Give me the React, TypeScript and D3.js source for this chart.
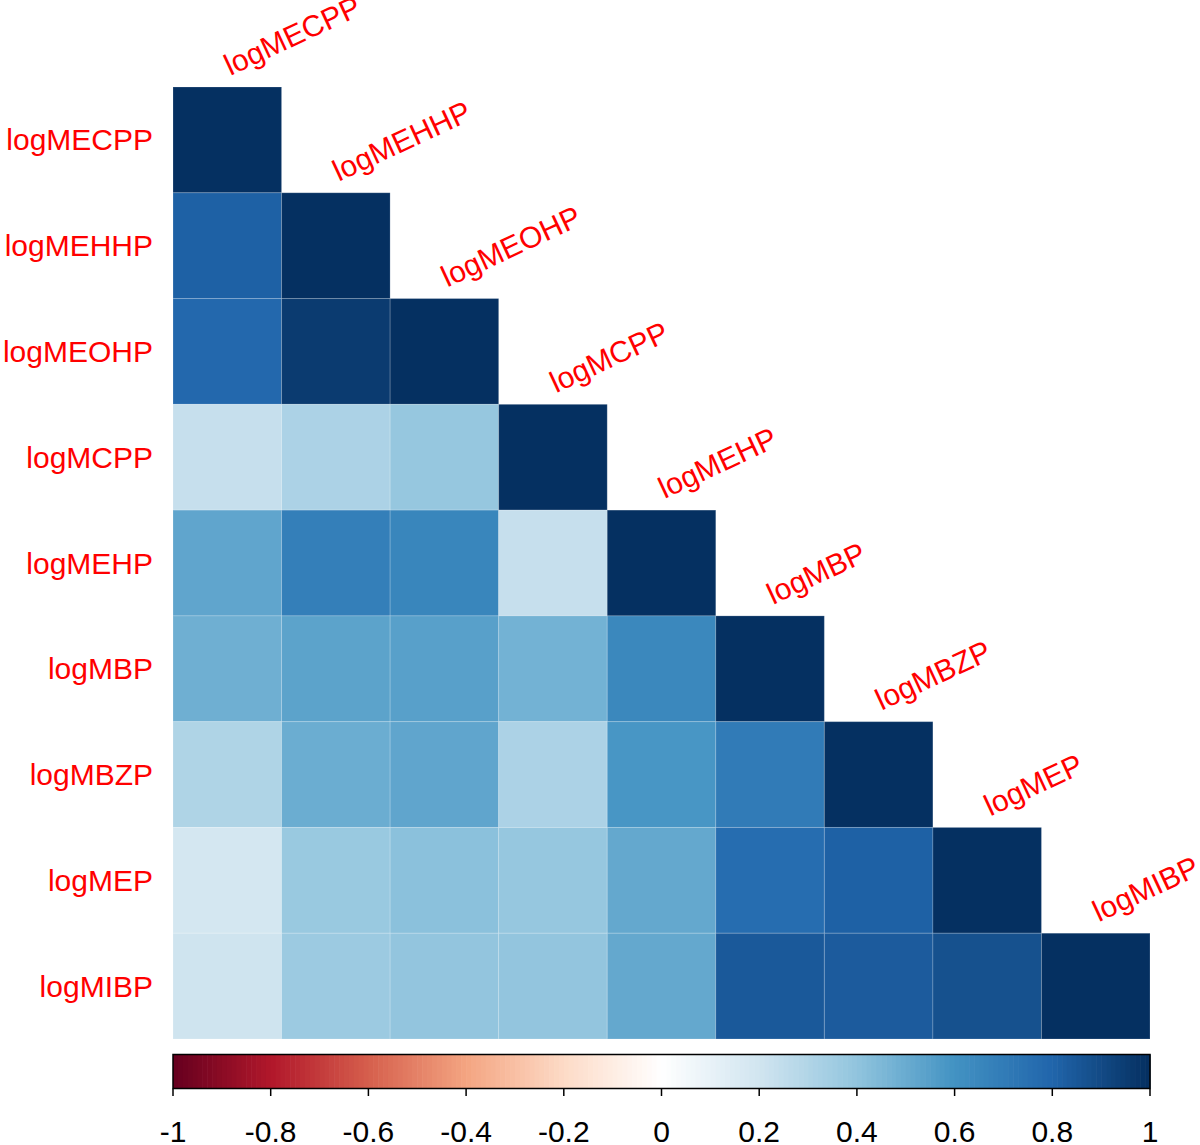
import * as d3 from 'd3';

const width = 1200;
const height = 1145;

// variable names (row order = column order)
const vars = ['logMECPP', 'logMEHHP', 'logMEOHP', 'logMCPP', 'logMEHP', 'logMBP', 'logMBZP', 'logMEP', 'logMIBP'];

// lower triangle of the correlation matrix
const rMECPP = [1];
const rMEHHP = [0.82, 1];
const rMEOHP = [0.78, 0.95, 1];
const rMCPP = [0.23, 0.31, 0.38, 1];
const rMEHP = [0.52, 0.68, 0.65, 0.23, 1];
const rMBP = [0.48, 0.53, 0.54, 0.47, 0.64, 1];
const rMBZP = [0.3, 0.49, 0.52, 0.31, 0.58, 0.7, 1];
const rMEP = [0.18, 0.37, 0.41, 0.38, 0.51, 0.76, 0.82, 1];
const rMIBP = [0.2, 0.36, 0.39, 0.39, 0.51, 0.84, 0.83, 0.87, 1];
const lowerTri = [rMECPP, rMEHHP, rMEOHP, rMCPP, rMEHP, rMBP, rMBZP, rMEP, rMIBP];

// colorbar ticks
const barTicks = [-1, -0.8, -0.6, -0.4, -0.2, 0, 0.2, 0.4, 0.6, 0.8, 1];
const barTickLabels = ['-1', '-0.8', '-0.6', '-0.4', '-0.2', '0', '0.2', '0.4', '0.6', '0.8', '1'];

// RdBu ramp like corrplot's COL2('RdBu')
const rampColors = ['#67001F', '#B2182B', '#D6604D', '#F4A582', '#FDDBC7', '#FFFFFF', '#D1E5F0', '#92C5DE', '#4393C3', '#2166AC', '#053061'];
const nCol = 200;

const ramp = d3.scaleLinear<string>()
  .domain(d3.range(rampColors.length).map(i => i / (rampColors.length - 1)))
  .range(rampColors)
  .interpolate(d3.interpolateRgb);

const palette = d3.range(nCol).map(i => ramp(i / (nCol - 1)));
const colorOf = (v: number) => {
  const idx = Math.min(nCol - 1, Math.max(0, Math.floor((v + 1) / 2 * nCol)));
  return palette[idx];
};

const gridLeft = 173;
const gridRight = 1150;
const gridTop = 87;
const gridBottom = 1039;

const App = () => {
  const x = d3.scaleBand<string>().domain(vars).range([gridLeft, gridRight]);
  const y = d3.scaleBand<string>().domain(vars).range([gridTop, gridBottom]);

  const barX = d3.scaleLinear().domain([-1, 1]).range([gridLeft, gridRight]);
  const barTop = 1054.5;
  const barBottom = 1088.5;
  const binW = (gridRight - gridLeft) / nCol;

  const cells = lowerTri.flatMap((row, i) => row.map((v, j) => ({ i, j, v })));

  return (
    <svg width={width} height={height} style={{ position: 'absolute', left: 0, top: 0 }}
      fontFamily="Liberation Sans, Arial, sans-serif">
      <rect width={width} height={height} fill="white" />
      {cells.map(c => (
        <rect
          key={`${c.i}-${c.j}`}
          x={x(vars[c.j])}
          y={y(vars[c.i])}
          width={x.bandwidth()}
          height={y.bandwidth()}
          fill={colorOf(c.v)}
          stroke="white"
          strokeOpacity={0.18}
          strokeWidth={1}
        />
      ))}
      {/* row labels */}
      {vars.map(name => (
        <text key={'r' + name} x={153} y={y(name)! + y.bandwidth() / 2} fill="#FF0000"
          fontSize={30} textAnchor="end" dominantBaseline="central">{name}</text>
      ))}
      {/* column labels on the diagonal */}
      {vars.map(name => {
        const cx = x(name)! + x.bandwidth() / 2 + 3;
        const cy = y(name)! - 11;
        return (
          <text key={'c' + name} x={cx} y={cy} fill="#FF0000" fontSize={30}
            transform={`rotate(-25, ${cx}, ${cy})`}>{name}</text>
        );
      })}
      {/* colour bar */}
      {palette.map((col, i) => (
        <rect key={'b' + i} x={gridLeft + i * binW} y={barTop} width={binW + 0.6}
          height={barBottom - barTop} fill={col} />
      ))}
      <rect x={gridLeft} y={barTop} width={gridRight - gridLeft} height={barBottom - barTop}
        fill="none" stroke="black" strokeWidth={1.5} />
      {barTicks.map((t, k) => (
        <g key={'t' + k}>
          <line x1={barX(t)} x2={barX(t)} y1={barBottom} y2={1096} stroke="black" strokeWidth={1.5} />
          <text x={barX(t)} y={1142} textAnchor="middle" fontSize={30} fill="black">{barTickLabels[k]}</text>
        </g>
      ))}
    </svg>
  );
};

export default App;
